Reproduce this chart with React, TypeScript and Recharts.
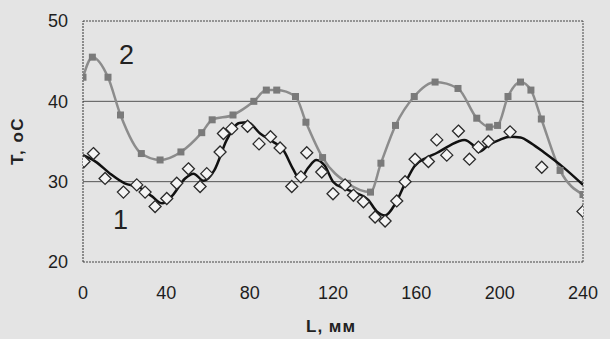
import {
  ComposedChart,
  Line,
  ReferenceLine,
  Scatter,
  XAxis,
  YAxis,
} from 'recharts';

// curve 2 (grey, square markers)
const curve2L = [0, 4.5, 12, 18, 28, 37, 47, 57, 62, 72, 82, 88, 93, 102, 107, 115, 127, 138, 143, 150, 159, 169, 180, 189, 195, 199, 204, 210, 215, 220, 229, 240];
const curve2T = [43.0, 45.5, 43.0, 38.3, 33.5, 32.7, 33.7, 36.1, 37.7, 38.3, 40.0, 41.4, 41.4, 40.6, 37.4, 33.0, 29.8, 28.7, 32.3, 37.0, 40.6, 42.4, 41.6, 37.9, 36.8, 37.0, 40.6, 42.4, 41.4, 37.8, 31.4, 28.4];

// curve 1 measured points (diamonds)
const pointsL = [0.5, 5, 10.6, 19.4, 25.8, 29.8, 34.6, 40.2, 45, 50.6, 56.2, 59.4, 65.8, 67.4, 71.4, 79, 84.5, 90, 94.6, 100.2, 104.6, 107.4, 114.6, 120, 125.8, 129.8, 134.6, 140.2, 145, 150.6, 154.6, 159.4, 165.8, 169.8, 174.6, 180.2, 185.5, 189.8, 194.6, 205, 220.2, 240];
const pointsT = [32.5, 33.5, 30.4, 28.7, 29.6, 28.7, 26.9, 27.9, 29.8, 31.6, 29.4, 31.0, 33.7, 36.0, 36.6, 36.9, 34.7, 35.6, 34.2, 29.4, 30.6, 33.6, 31.2, 28.5, 29.6, 28.3, 27.5, 25.6, 25.1, 27.6, 30.0, 32.8, 32.5, 35.2, 33.3, 36.3, 32.8, 34.3, 35.0, 36.2, 31.8, 26.3];

// curve 1 smoothed (black line)
const fitL = [0, 6, 13, 20, 27, 33, 38, 43, 49, 53, 58, 63, 69, 75, 79, 85, 91, 96, 101, 104, 108, 112, 116, 120, 125, 130, 137, 141, 145, 150, 155, 159, 165, 170, 176, 183, 187, 190, 195, 200, 205, 210, 215, 222, 230, 240];
const fitT = [33.3, 32.5, 31.0, 29.8, 29.3, 28.2, 27.3, 28.3, 30.4, 31.0, 30.1, 31.4, 35.2, 37.3, 37.4, 36.0, 35.0, 34.0, 31.5, 30.3, 31.7, 32.7, 32.0, 30.0, 29.2, 28.7, 27.7, 26.3, 25.8, 27.3, 30.0, 31.9, 33.0, 33.6, 34.5, 35.2, 34.6, 33.7, 34.6, 35.2, 35.6, 35.5, 34.8, 33.5, 31.9, 29.6];

const xTicks = [0, 40, 80, 120, 160, 200, 240];
const yTicks = [20, 30, 40, 50];

const curve2 = curve2L.map((x, i) => ({ x, t: curve2T[i] }));
const points = pointsL.map((x, i) => ({ x, t: pointsT[i] }));
const fit = fitL.map((x, i) => ({ x, t: fitT[i] }));

const FONT = "'Liberation Sans', Arial, sans-serif";
const BG = '#e4e4e4';

function Square(props: any) {
  const { cx, cy } = props;
  if (cx == null || cy == null) return null;
  return <rect x={cx - 3.5} y={cy - 3.5} width={7} height={7} fill="#7a7a7a" />;
}

function Diamond(props: any) {
  const { cx, cy } = props;
  if (cx == null || cy == null) return null;
  const r = 6;
  return (
    <polygon
      points={`${cx},${cy - r} ${cx + r},${cy} ${cx},${cy + r} ${cx - r},${cy}`}
      fill="#f4f4f4"
      stroke="#2a2a2a"
      strokeWidth={1.3}
    />
  );
}

export default function App() {
  return (
    <div
      style={{
        position: 'absolute',
        left: 0,
        top: 0,
        width: 610,
        height: 339,
        background: BG,
        fontFamily: FONT,
      }}
    >
      <ComposedChart width={610} height={339} margin={{ top: 21, right: 27, left: 23, bottom: 47 }}>
        <XAxis
          type="number"
          dataKey="x"
          domain={[0, 240]}
          ticks={xTicks}
          allowDataOverflow
          axisLine={false}
          tickLine={false}
          tickSize={0}
          tickMargin={24}
          height={30}
          tick={{ fontSize: 18, fill: '#1e1e1e', fontFamily: FONT }}
        />
        <YAxis
          type="number"
          domain={[20, 50]}
          ticks={yTicks}
          allowDataOverflow
          axisLine={false}
          tickLine={false}
          tickSize={0}
          tickMargin={15}
          width={60}
          tick={{ fontSize: 18, fill: '#1e1e1e', fontFamily: FONT }}
        />
        <ReferenceLine y={30} stroke="#555" strokeWidth={1} />
        <ReferenceLine y={40} stroke="#555" strokeWidth={1} />
        <ReferenceLine y={50} stroke="#444" strokeDasharray="2 1" />
        <ReferenceLine y={20} stroke="#444" strokeDasharray="2 1" />
        <ReferenceLine x={0} stroke="#333" strokeDasharray="2 1" />
        <ReferenceLine x={240} stroke="#444" strokeDasharray="2 1" />
        <Line
          data={curve2}
          dataKey="t"
          type="monotone"
          stroke="#8c8c8c"
          strokeWidth={2.5}
          dot={<Square />}
          activeDot={false}
          isAnimationActive={false}
        />
        <Scatter data={points} dataKey="t" shape={<Diamond />} isAnimationActive={false} />
        <Line
          data={fit}
          dataKey="t"
          type="monotone"
          stroke="#111"
          strokeWidth={2.5}
          dot={false}
          activeDot={false}
          isAnimationActive={false}
        />
      </ComposedChart>
      <div
        style={{
          position: 'absolute',
          left: 18,
          top: 141,
          transform: 'translate(-50%, -50%) rotate(-90deg)',
          fontSize: 17,
          fontWeight: 'bold',
          letterSpacing: 1.5,
          color: '#222',
          whiteSpace: 'nowrap',
        }}
      >
        T, oC
      </div>
      <div
        style={{
          position: 'absolute',
          left: 306,
          top: 317,
          fontSize: 17,
          fontWeight: 'bold',
          letterSpacing: 1,
          color: '#222',
          whiteSpace: 'nowrap',
        }}
      >
        L, мм
      </div>
      <div style={{ position: 'absolute', left: 119, top: 40, fontSize: 27, color: '#222' }}>2</div>
      <div style={{ position: 'absolute', left: 113, top: 205, fontSize: 27, color: '#222' }}>1</div>
    </div>
  );
}
